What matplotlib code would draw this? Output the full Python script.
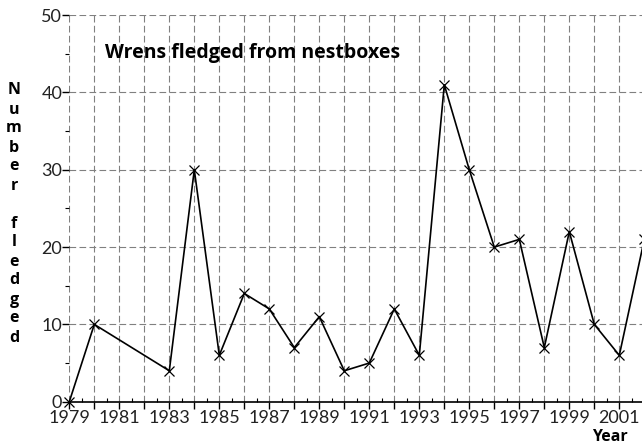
import matplotlib
matplotlib.use("Agg")
import matplotlib.pyplot as plt
from matplotlib.ticker import MultipleLocator

# data
years = [1979, 1980, 1983, 1984, 1985, 1986, 1987, 1988, 1989, 1990, 1991,
         1992, 1993, 1994, 1995, 1996, 1997, 1998, 1999, 2000, 2001, 2002]
fledged = [0, 10, 4, 30, 6, 14, 12, 7, 11, 4, 5,
           12, 6, 41, 30, 20, 21, 7, 22, 10, 6, 21]
tick_years = list(range(1979, 2003))
tick_labels = [str(y) if y % 2 == 1 else "" for y in tick_years]
title = "Wrens fledged from nestboxes"
ylabel = "Number fledged"
xlabel = "Year"

plt.rcParams['font.family'] = ['Lato', 'DejaVu Sans']
bold_font = ['Open Sans', 'DejaVu Sans']

W, H = 642, 448
fig = plt.figure(figsize=(W / 100, H / 100), dpi=100)
ax = fig.add_axes([69.3 / W, 46.3 / H, 575 / W, 386.5 / H])

ax.plot(years, fledged, color='black', lw=1.2, marker='x', ms=7, mew=0.9,
        clip_on=False, zorder=3)

ax.set_xlim(1979, 2002)
ax.set_ylim(0, 50)
ax.set_xticks(tick_years)
ax.set_xticklabels(tick_labels)
ax.xaxis.set_minor_locator(MultipleLocator(0.5))
ax.yaxis.set_major_locator(MultipleLocator(10))
ax.yaxis.set_minor_locator(MultipleLocator(5))

ax.tick_params(axis='x', which='major', direction='out', length=5, width=1,
               labelsize=13, pad=1, colors='black', labelcolor='#222222')
ax.tick_params(axis='x', which='minor', direction='in', length=3, width=0.8)
ax.tick_params(axis='y', which='major', direction='out', length=5, width=1,
               labelsize=13, pad=0, labelcolor='#222222')
ax.tick_params(axis='y', which='minor', direction='out', length=3, width=0.8)

ax.grid(True, which='major', color='#808080', lw=0.8, linestyle=(0, (6, 3)))
for s in ['top', 'right', 'left']:
    ax.spines[s].set_visible(False)
ax.spines['bottom'].set_linewidth(1.2)
ax.set_axisbelow(True)

ax.text((105 - 69.3) / 575, (401.7 - 53) / 386.5, title, transform=ax.transAxes,
        fontsize=14, fontweight='bold', family=bold_font,
        ha='left', va='center')

fig.text(14 / W, 1 - 214 / H, "\n".join(list(ylabel)), fontsize=11.5,
         fontweight='bold', family=bold_font, ha='center', va='center',
         multialignment='center', linespacing=1.25)
fig.text(610 / W, 1 - 437 / H, xlabel, fontsize=11.5, fontweight='bold',
         family=bold_font, ha='center', va='center')

fig.savefig("out.png", dpi=100)
